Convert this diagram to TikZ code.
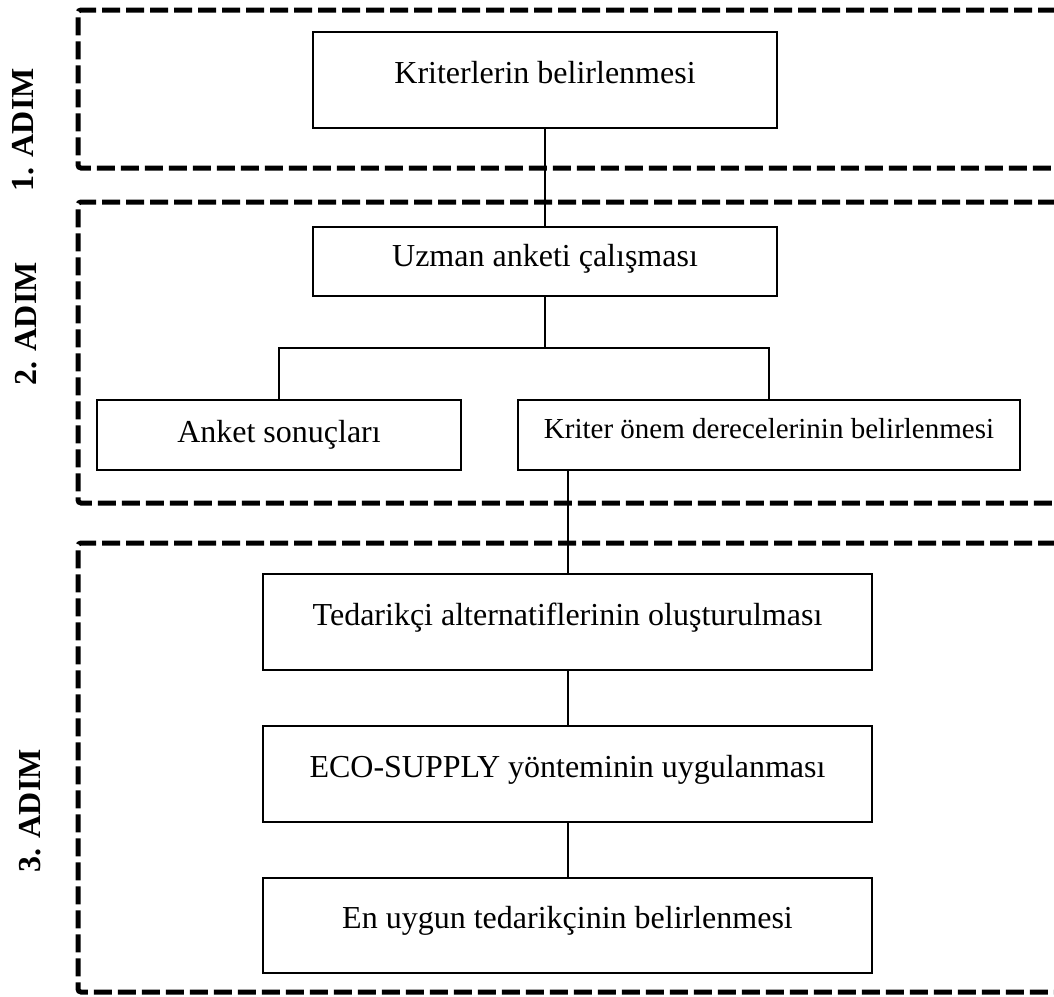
\documentclass[tikz,border=0pt]{standalone}
\usepackage{fontspec}
\setmainfont{Liberation Serif}
\usepackage{tikz}

\begin{document}
\begin{tikzpicture}[x=1pt,y=-1pt,
  stepbox/.style={draw,line width=2.2pt,inner sep=0pt,text height=22pt,text depth=16pt,
    font=\fontsize{32}{38}\selectfont},
  stepframe/.style={line width=5pt,dash pattern=on 18pt off 6pt,rounded corners=3pt},
  steplabel/.style={rotate=90,anchor=base,font=\bfseries\fontsize{32}{38}\selectfont},
  link/.style={line width=2pt}]
\useasboundingbox (0,0) rectangle (1054,996);
\clip (0,0) rectangle (1054,996);

% dashed step frames
\draw[stepframe] (1080,10) -- (78,10) -- (78,168) -- (1080,168);
\draw[stepframe] (1080,202) -- (78,202) -- (78,503) -- (1080,503);
\draw[stepframe] (1080,543) -- (78,543) -- (78,992) -- (1080,992);

\node[steplabel] (adim1) at (33,130) {1. ADIM};
\node[steplabel] (adim2) at (36,324) {2. ADIM};
\node[steplabel] (adim3) at (40,811) {3. ADIM};

% boxes
\node[stepbox,minimum width=464,minimum height=96] (kriter) at (545,80) {Kriterlerin belirlenmesi};
\node[stepbox,minimum width=464,minimum height=69,text depth=13pt] (uzman) at (545,261.5) {Uzman anketi çalışması};
\node[stepbox,minimum width=364,minimum height=70,text depth=8pt] (anket) at (279,435) {Anket sonuçları};
\node[stepbox,minimum width=502,minimum height=70,text height=20pt,text depth=14pt,
  font=\fontsize{29}{35}\selectfont] (onem) at (769,435) {Kriter önem derecelerinin belirlenmesi};
\node[stepbox,minimum width=609,minimum height=96] (tedarik) at (567.5,622) {Tedarikçi alternatiflerinin oluşturulması};
\node[stepbox,minimum width=609,minimum height=96] (eco) at (567.5,774) {ECO-SUPPLY yönteminin uygulanması};
\node[stepbox,minimum width=609,minimum height=95,text depth=17pt] (enuygun) at (567.5,925.5) {En uygun tedarikçinin belirlenmesi};

% connectors
\coordinate (split) at (545,348);
\draw[link] (kriter.south) -- (uzman.north);
\draw[link] (uzman.south) -- (split);
\draw[link] (anket.north) |- (split) -| (onem.north);
\draw[link] (tedarik.north) -- (tedarik.north |- onem.south);
\draw[link] (tedarik.south) -- (eco.north);
\draw[link] (eco.south) -- (enuygun.north);
\end{tikzpicture}
\end{document}
